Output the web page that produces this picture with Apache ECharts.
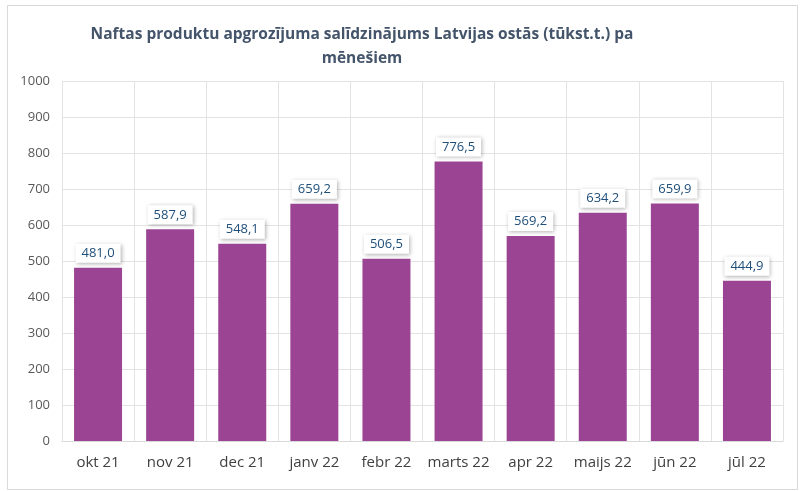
<!DOCTYPE html>
<html><head><meta charset="utf-8">
<script src="https://cdn.jsdelivr.net/npm/echarts@6/dist/echarts.min.js"></script>
<style>html,body{margin:0;padding:0;background:#fff}#c{width:800px;height:491px}</style>
</head><body><div id="c"></div>
<script>
var categories = ['okt 21','nov 21','dec 21','janv 22','febr 22','marts 22','apr 22','maijs 22','jūn 22','jūl 22'];
var values = [481.0, 587.9, 548.1, 659.2, 506.5, 776.5, 569.2, 634.2, 659.9, 444.9];
var titleText = 'Naftas produktu apgrozījuma salīdzinājums Latvijas ostās (tūkst.t.) pa\nmēnešiem';

var chart = echarts.init(document.getElementById('c'), null, {renderer:'canvas'});
chart.setOption({
  animation:false,
  graphic:[{type:'rect',left:5,top:3,shape:{width:790,height:484},style:{fill:'none',stroke:'#d9d9d9',lineWidth:1},silent:true}],
  title:{text:titleText,left:357,top:18,textAlign:'center',
    textStyle:{fontFamily:'Open Sans',fontWeight:'bold',fontSize:15.5,color:'#44546A',lineHeight:24}},
  grid:{left:62,right:17,top:81,bottom:50},
  xAxis:{type:'category',data:categories,
    axisLine:{lineStyle:{color:'#d9d9d9'}},axisTick:{show:false},
    splitLine:{show:true,lineStyle:{color:'#e3e3e3'}},
    axisLabel:{fontFamily:'Open Sans',fontSize:15,color:'#404040',margin:14,interval:0}},
  yAxis:{type:'value',min:0,max:1000,interval:100,
    axisLine:{show:false},axisTick:{show:false},
    splitLine:{lineStyle:{color:'#e3e3e3'}},
    axisLabel:{fontFamily:'Open Sans',fontSize:13,color:'#595959',margin:12,formatter:function(v){return String(v);}}},
  series:[{type:'bar',data:values,barWidth:48,itemStyle:{color:'#9B4494'},
    label:{show:true,position:'top',distance:5,
      formatter:function(p){return p.value.toFixed(1).replace('.',',');},
      fontFamily:'Open Sans',fontSize:13,color:'#1F4E79',
      backgroundColor:'#fff',padding:[3,6],
      shadowColor:'rgba(0,0,0,0.3)',shadowBlur:4,shadowOffsetX:1,shadowOffsetY:1}}]
});
</script></body></html>
